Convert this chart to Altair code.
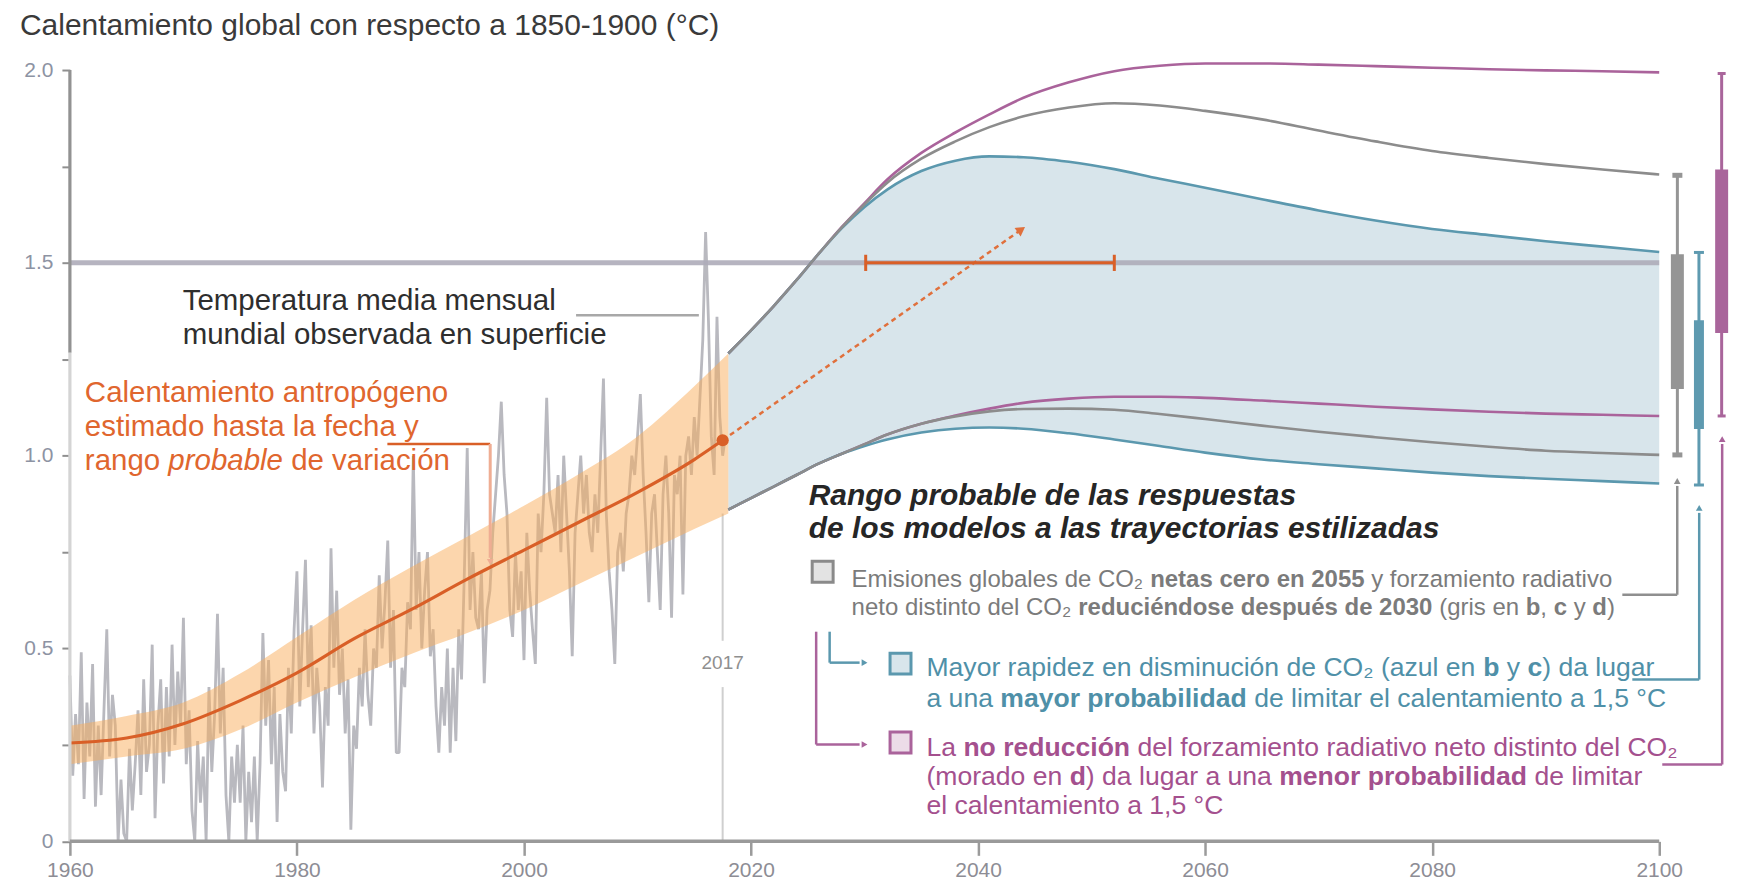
import altair as alt
import pandas as pd
import numpy as np

# ---------------- data (°C relative to 1850-1900) ----------------
# observed global mean surface temperature, read 4 times per year from 1960
obs_start = 1960
obs_per_year = 4
obs_values = [
    0.43, 0.17, 0.33, 0.20,  0.49, 0.11, 0.36, 0.22,  0.46, 0.09, 0.30, 0.12,
    0.34, 0.55, 0.22, 0.38,  0.30, 0.00, 0.16, 0.02,  0.00, 0.24, 0.08, 0.20,
    0.34, 0.12, 0.42, 0.18,  0.25, 0.51, 0.06, 0.30,  0.42, 0.15, 0.40, 0.22,
    0.51, 0.25, 0.44, 0.30,  0.58, 0.20, 0.34, 0.08,  0.00, 0.26, 0.10, 0.22,
    0.00, 0.40, 0.18, 0.33,  0.59, 0.28, 0.45, 0.12,  0.00, 0.22, 0.10, 0.25,
    0.10, 0.30, 0.00, 0.18,  0.05, 0.22, 0.00, 0.20,  0.54, 0.30, 0.47, 0.20,
    0.40, 0.05, 0.33, 0.18,  0.13, 0.45, 0.28, 0.55,  0.70, 0.35, 0.55, 0.73,
    0.40, 0.56, 0.28, 0.45,  0.35, 0.14, 0.40, 0.30,  0.76, 0.45, 0.65, 0.38,
    0.50, 0.28, 0.42, 0.03,  0.30, 0.24, 0.45, 0.35,  0.55, 0.38, 0.30, 0.50,
    0.45, 0.69, 0.50, 0.62,  0.78, 0.45, 0.60, 0.23,  0.23, 0.45, 0.40, 0.62,
    0.55, 1.00, 0.60, 0.75,  0.50, 0.65, 0.75, 0.48,  0.55, 0.35, 0.23, 0.40,
    0.30, 0.50, 0.23, 0.45,  0.26, 0.55, 0.42, 0.70,  1.02, 0.60, 0.75, 0.58,
    0.55, 0.70, 0.41, 0.60,  0.65, 0.80, 0.90, 1.00,  1.14, 0.95, 0.85, 0.60,
    0.53, 0.75, 0.60, 0.70,  0.47, 0.80, 0.65, 0.55,  0.46, 0.85, 0.75, 0.90,
    1.15, 0.90, 0.85, 0.80,  0.95, 0.75, 1.00, 0.85,  0.70, 0.48, 0.80, 0.90,
    1.00, 0.85, 0.95, 0.80,  0.75, 0.90, 0.80, 1.00,  1.20, 0.85, 0.70, 0.60,
    0.46, 0.75, 0.80, 0.70,  0.85, 0.90, 1.00, 0.95,  1.05, 1.16, 0.95, 0.80,
    0.62, 0.85, 0.90, 0.75,  0.60, 0.90, 1.00, 0.85,  0.58, 0.95, 0.90, 1.00,
    0.64, 1.00, 1.05, 0.95,  1.10, 1.00, 1.15, 1.30,  1.58, 1.35, 1.05, 0.95,
    1.36, 1.10, 1.00, 1.05,
]

# estimated human-induced warming and likely range
anth_years = [1960, 1965, 1970, 1975, 1980, 1985, 1990, 1995, 2000, 2005, 2010, 2015, 2017.5]
anth_mid = [0.255, 0.268, 0.305, 0.365, 0.437, 0.525, 0.60, 0.68, 0.755, 0.83, 0.905, 0.99, 1.04]
band_years = [1960, 1965, 1970, 1975, 1980, 1985, 1990, 1995, 2000, 2005, 2010, 2015, 2018]
band_lo = [0.20, 0.22, 0.24, 0.29, 0.36, 0.425, 0.485, 0.54, 0.60, 0.67, 0.74, 0.81, 0.85]
band_hi = [0.30, 0.325, 0.36, 0.435, 0.53, 0.625, 0.71, 0.79, 0.87, 0.955, 1.05, 1.18, 1.265]

# likely ranges of modelled responses to stylized pathways
proj_years = [2018, 2020, 2022, 2024, 2026, 2028, 2030, 2032, 2035, 2038, 2041, 2044,
              2048, 2052, 2056, 2060, 2065, 2070, 2075, 2080, 2085, 2090, 2095, 2100]
blue_hi = [1.265, 1.325, 1.388, 1.455, 1.525, 1.59, 1.645, 1.69, 1.738, 1.765, 1.776, 1.774,
           1.762, 1.743, 1.718, 1.695, 1.665, 1.636, 1.61, 1.588, 1.572, 1.556, 1.542, 1.528]
blue_lo = [0.86, 0.89, 0.92, 0.95, 0.98, 1.005, 1.025, 1.042, 1.06, 1.07, 1.073, 1.07,
           1.058, 1.042, 1.025, 1.008, 0.99, 0.978, 0.967, 0.956, 0.947, 0.94, 0.934, 0.928]
gray_hi = [1.265, 1.325, 1.388, 1.455, 1.525, 1.592, 1.652, 1.708, 1.77, 1.815, 1.852, 1.88,
           1.903, 1.914, 1.908, 1.894, 1.872, 1.843, 1.815, 1.79, 1.772, 1.756, 1.742, 1.729]
gray_lo = [0.86, 0.89, 0.92, 0.95, 0.98, 1.005, 1.03, 1.055, 1.083, 1.102, 1.115, 1.121,
           1.122, 1.119, 1.108, 1.095, 1.078, 1.062, 1.048, 1.035, 1.023, 1.013, 1.007, 1.002]
purple_hi = [1.265, 1.325, 1.388, 1.455, 1.525, 1.593, 1.655, 1.716, 1.785, 1.838, 1.885, 1.928,
             1.968, 1.997, 2.011, 2.017, 2.017, 2.014, 2.01, 2.006, 2.002, 1.999, 1.997, 1.994]
purple_lo = [0.86, 0.89, 0.92, 0.95, 0.98, 1.005, 1.03, 1.055, 1.083, 1.104, 1.122, 1.137,
             1.148, 1.153, 1.153, 1.15, 1.143, 1.135, 1.127, 1.12, 1.114, 1.109, 1.106, 1.103]

# 2100 likely ranges (bars at the right): whisker and box
bar_names = ["gris", "azul", "morado"]
bar_years = [2101.6, 2103.5, 2105.5]
bar_whisker_lo = [1.002, 0.924, 1.103]
bar_whisker_hi = [1.727, 1.527, 1.991]
bar_box_lo = [1.173, 1.069, 1.318]
bar_box_hi = [1.522, 1.351, 1.742]

# time range when 1.5 °C is reached
reach_year_lo, reach_year_hi, reach_level = 2030.1, 2052.0, 1.5
now_year, now_value = 2017.5, 1.04
trend_end_year, trend_end_value = 2043.7, 1.584
target_level = 1.5
x_ticks = [1960, 1980, 2000, 2020, 2040, 2060, 2080, 2100]
y_ticks = [0, 0.25, 0.5, 0.75, 1.0, 1.25, 1.5, 1.75, 2.0]

# ---------------- layout helpers ----------------
PX_X0, PX_PER_YR = 70.0, 11.371      # page x of 1960, px per year
PX_Y0, PX_PER_DEG = 842.0, 386.3     # page y of 0 °C, px per °C
X_DOMAIN = [1960, 2106.5]
W = (X_DOMAIN[1] - X_DOMAIN[0]) * PX_PER_YR
H = 2.0 * PX_PER_DEG


def yr(px):
    return 1960 + (px - PX_X0) / PX_PER_YR


def dg(py):
    return (PX_Y0 - py) / PX_PER_DEG


FONT = "Liberation Sans"
BLUE, GRAY, PURPLE, ORANGE = "#5b98ae", "#8c8c8c", "#aa639b", "#d95f27"

XS = alt.Scale(domain=X_DOMAIN, nice=False, zero=False)
YS = alt.Scale(domain=[0, 2.0], nice=False, zero=False)
XAXIS = alt.Axis(values=x_ticks, format="d", domain=False, grid=False, tickSize=14,
                 tickWidth=2.5, tickColor="#9b9b9b", labelFontSize=21, labelColor="#8d8d95",
                 labelFont=FONT, labelPadding=4, labelFlush=False, title=None)
YAXIS = alt.Axis(values=y_ticks, domain=False, grid=False, tickSize=8, tickWidth=2,
                 tickColor="#8f8f8f", labelFontSize=21, labelColor="#8d93a3", labelFont=FONT,
                 labelPadding=9, title=None,
                 labelExpr="datum.value == 0 ? '0' : (datum.value % 0.5 == 0 ? format(datum.value, '.1f') : '')")


def X(f):
    return alt.X(f, type="quantitative", scale=XS, axis=XAXIS, title=None)


def Y(f):
    return alt.Y(f, type="quantitative", scale=YS, axis=YAXIS, title=None)


# ---------------- tables ----------------
obs = pd.DataFrame({"year": [obs_start + i / obs_per_year for i in range(len(obs_values))],
                    "v": obs_values})
anth = pd.DataFrame({"year": anth_years, "v": anth_mid})
band = pd.DataFrame({"year": band_years, "lo": band_lo, "hi": band_hi})
proj = pd.DataFrame({"year": proj_years, "lo": blue_lo, "hi": blue_hi})
series = []
for name, vals, col in [("purple_hi", purple_hi, PURPLE), ("purple_lo", purple_lo, PURPLE),
                        ("blue_hi", blue_hi, BLUE), ("blue_lo", blue_lo, BLUE),
                        ("gray_hi", gray_hi, GRAY), ("gray_lo", gray_lo, GRAY)]:
    for y, v in zip(proj_years, vals):
        series.append({"s": name, "year": y, "v": v, "c": col})
lines = pd.DataFrame(series)

# ---------------- layers ----------------
layers = []

# blue likely range area
layers.append(alt.Chart(proj).mark_area(color="#d8e5eb", interpolate="monotone").encode(
    x=X("year"), y=Y("lo"), y2="hi"))

# 2017 marker line (with gap for label)
mk = pd.DataFrame({"x": [now_year, now_year], "y": [0.0, 0.52], "y2": [0.40, 0.85]})
layers.append(alt.Chart(mk).mark_rule(color="#cfcfcf", strokeWidth=2).encode(
    x=X("x"), y=Y("y"), y2="y2"))

# observed series
layers.append(alt.Chart(obs).mark_line(color="#b9b9bf", strokeWidth=2.8, strokeJoin="bevel").encode(
    x=X("year"), y=Y("v")))

# orange likely range
layers.append(alt.Chart(band).mark_area(color="#faae5c", opacity=0.5, interpolate="monotone").encode(
    x=X("year"), y=Y("lo"), y2="hi"))

# 1.5 °C line
t15 = pd.DataFrame({"x": [1960], "x2": [2100], "y": [target_level]})
layers.append(alt.Chart(t15).mark_rule(color="#aeacb9", strokeWidth=5, opacity=0.9).encode(
    x=X("x"), x2="x2", y=Y("y")))

# projection boundary lines
layers.append(alt.Chart(lines).mark_line(strokeWidth=2.6, interpolate="monotone").encode(
    x=X("year"), y=Y("v"), detail="s:N", color=alt.Color("c:N", scale=None)))

# anthropogenic warming line
layers.append(alt.Chart(anth).mark_line(color=ORANGE, strokeWidth=3.2, interpolate="monotone").encode(
    x=X("year"), y=Y("v")))

# dashed trend arrow
arr = pd.DataFrame({"year": [now_year, trend_end_year], "v": [now_value, trend_end_value]})
layers.append(alt.Chart(arr).mark_line(color="#e0703c", strokeWidth=2.5, strokeDash=[5, 4]).encode(
    x=X("year"), y=Y("v")))
ang = float(np.degrees(np.arctan2((trend_end_year - now_year) * PX_PER_YR,
                                  (trend_end_value - now_value) * PX_PER_DEG)))
head = pd.DataFrame({"year": [trend_end_year], "v": [trend_end_value], "a": [ang]})
layers.append(alt.Chart(head).mark_point(shape="triangle", filled=True, color="#e0703c", size=110, opacity=1).encode(
    x=X("year"), y=Y("v"), angle=alt.Angle("a:Q", scale=None)))

# 2017 dot
dot = pd.DataFrame({"year": [now_year], "v": [now_value]})
layers.append(alt.Chart(dot).mark_circle(color=ORANGE, size=150, opacity=1).encode(x=X("year"), y=Y("v")))

# range when 1.5 reached
rb = pd.DataFrame({"x": [reach_year_lo], "x2": [reach_year_hi], "y": [reach_level]})
layers.append(alt.Chart(rb).mark_rule(color=ORANGE, strokeWidth=3).encode(x=X("x"), x2="x2", y=Y("y")))
caps = pd.DataFrame({"x": [reach_year_lo, reach_year_hi], "y": [reach_level - 0.021] * 2,
                     "y2": [reach_level + 0.021] * 2})
layers.append(alt.Chart(caps).mark_rule(color=ORANGE, strokeWidth=3).encode(x=X("x"), y=Y("y"), y2="y2"))

# axis lines
ax = pd.DataFrame({"x": [1960, 1960], "y": [1.267, 0.0], "y2": [2.0, 1.267],
                   "c": ["#929292", "#d4d4d4"]})
layers.append(alt.Chart(ax).mark_rule(strokeWidth=3.2).encode(
    x=X("x"), y=Y("y"), y2="y2", color=alt.Color("c:N", scale=None)))
bx = pd.DataFrame({"x": [1960], "x2": [2100], "y": [0.0]})
layers.append(alt.Chart(bx).mark_rule(color="#9a9a9a", strokeWidth=3.5).encode(x=X("x"), x2="x2", y=Y("y")))

# right-hand bars
bar_cols = ["#959595", "#5e9ab0", "#a9659b"]
bars = pd.DataFrame({"x": bar_years, "wlo": bar_whisker_lo, "whi": bar_whisker_hi,
                     "blo": bar_box_lo, "bhi": bar_box_hi, "c": bar_cols,
                     "bw": [13, 10, 13]})
layers.append(alt.Chart(bars).mark_rule(strokeWidth=3).encode(
    x=X("x"), y=Y("wlo"), y2="whi", color=alt.Color("c:N", scale=None)))
layers.append(alt.Chart(bars).mark_rule().encode(
    x=X("x"), y=Y("blo"), y2="bhi", color=alt.Color("c:N", scale=None),
    strokeWidth=alt.StrokeWidth("bw:Q", scale=None)))
cap_rows = []
for xb, lo, hi, c, half, th in zip(bar_years, bar_whisker_lo, bar_whisker_hi, bar_cols,
                                   [5, 5, 4], [5, 3, 3]):
    for v in (lo, hi):
        cap_rows.append({"x": xb - half / PX_PER_YR, "x2": xb + half / PX_PER_YR, "y": v, "c": c, "w": th})
layers.append(alt.Chart(pd.DataFrame(cap_rows)).mark_rule().encode(
    x=X("x"), x2="x2", y=Y("y"), color=alt.Color("c:N", scale=None),
    strokeWidth=alt.StrokeWidth("w:Q", scale=None)))

# connectors (page px -> data units)
seg_px = [
    (1625, 595, 1680, 595, "#8f8f8f", 2.5), (1680, 595, 1680, 486, "#8f8f8f", 2.5),
    (1635, 680, 1702, 680, BLUE, 2.5), (1702, 680, 1702, 513, BLUE, 2.5),
    (1665, 765, 1725, 765, PURPLE, 2.5), (1725, 765, 1725, 444, PURPLE, 2.5),
    (831, 632, 831, 663, BLUE, 2.5), (831, 663, 861, 663, BLUE, 2.5),
    (817.5, 632, 817.5, 745, PURPLE, 2.5), (817.5, 745, 861, 745, PURPLE, 2.5),
    (388, 444, 491, 444, ORANGE, 2.5), (491, 444, 491, 558, "#efad93", 3),
    (577, 315, 700, 315, "#a8a8a8", 2.5),
]
segs = pd.DataFrame([{"x": yr(a), "y": dg(b), "x2": yr(c), "y2": dg(d), "c": col, "w": w}
                     for a, b, c, d, col, w in seg_px])
layers.append(alt.Chart(segs).mark_rule().encode(
    x=X("x"), y=Y("y"), x2="x2", y2="y2", color=alt.Color("c:N", scale=None),
    strokeWidth=alt.StrokeWidth("w:Q", scale=None)))
heads_px = [(1680, 482, 0, "#8f8f8f"), (1702, 509, 0, BLUE), (1725, 440, 0, PURPLE),
            (865, 663, 90, BLUE), (865, 745, 90, PURPLE), (491, 561, 180, "#efad93")]
heads = pd.DataFrame([{"x": yr(a), "y": dg(b), "a": g, "c": c} for a, b, g, c in heads_px])
layers.append(alt.Chart(heads).mark_point(shape="triangle", filled=True, size=45, opacity=1).encode(
    x=X("x"), y=Y("y"), angle=alt.Angle("a:Q", scale=None), color=alt.Color("c:N", scale=None)))

# legend squares
sq_px = [(824, 572, "#e3e3e3", "#8a8a8a"), (902, 664, "#d8e5eb", BLUE), (902, 743, "#ecdce8", PURPLE)]
sq = pd.DataFrame([{"x": yr(a), "y": dg(b), "f": f, "s": s} for a, b, f, s in sq_px])
layers.append(alt.Chart(sq).mark_square(size=440, filled=True, strokeWidth=3, opacity=1).encode(
    x=X("x"), y=Y("y"), fill=alt.Fill("f:N", scale=None), stroke=alt.Stroke("s:N", scale=None)))

# ---------------- texts ----------------
REG = dict(zip("abcdefghijklmnopqrstuvwxyz",
               [556, 556, 500, 556, 556, 278, 556, 556, 222, 222, 500, 222, 833, 556, 556, 556,
                556, 333, 500, 278, 556, 500, 722, 500, 500, 500]))
BLD = dict(zip("abcdefghijklmnopqrstuvwxyz",
               [556, 611, 556, 611, 556, 333, 611, 611, 278, 278, 556, 278, 889, 611, 611, 611,
                611, 389, 556, 333, 611, 556, 778, 556, 556, 500]))
for d, acc in ((REG, {"á": 556, "é": 556, "í": 278, "ó": 556, "ú": 556, "ñ": 556}),
               (BLD, {"á": 556, "é": 556, "í": 278, "ó": 611, "ú": 611, "ñ": 611})):
    d.update(acc)
    d.update({" ": 278, ",": 278, ".": 278, "(": 333, ")": 333, "°": 400, "₂": 400,
              "C": 722, "O": 778, "M": 833, "L": 556, "E": 667})


def tw(s, size, bold):
    tab = BLD if bold else REG
    return sum(tab.get(ch, 556) for ch in s) * size / 1000.0


small_lines = [
    (853, 587, "#7b7b7b", 24.0, [("Emisiones globales de CO₂ ", 0), ("netas cero en 2055", 1), (" y forzamiento radiativo", 0)]),
    (853, 615.5, "#7b7b7b", 24.0, [("neto distinto del CO₂ ", 0), ("reduciéndose después de 2030", 1), (" (gris en ", 0),
                                   ("b", 1), (", ", 0), ("c", 1), (" y ", 0), ("d", 1), (")", 0)]),
    (928, 676, "#4f90a8", 26.6, [("Mayor rapidez en disminución de CO₂ (azul en ", 0), ("b", 1), (" y ", 0), ("c", 1),
                                 (") da lugar", 0)]),
    (928, 707, "#4f90a8", 26.6, [("a una ", 0), ("mayor probabilidad", 1), (" de limitar el calentamiento a 1,5 °C", 0)]),
    (928, 757, "#a4508e", 26.6, [("La ", 0), ("no reducción", 1), (" del forzamiento radiativo neto distinto del CO₂", 0)]),
    (928, 786, "#a4508e", 26.6, [("(morado en ", 0), ("d", 1), (") da lugar a una ", 0), ("menor probabilidad", 1),
                                 (" de limitar", 0)]),
    (928, 815, "#a4508e", 26.6, [("el calentamiento a 1,5 °C", 0)]),
]
rows = {}
for x0, y0, col, size, segs_t in small_lines:
    xc = x0
    for txt, b in segs_t:
        lead = len(txt) - len(txt.lstrip(" "))
        rows.setdefault((size, b), []).append(
            {"x": yr(xc + tw(" " * lead, size, b)), "y": dg(y0), "t": txt.strip(" "), "c": col})
        xc += tw(txt, size, b)

for (size, b), rr in rows.items():
    mk_args = dict(align="left", baseline="alphabetic", font=FONT, fontSize=size)
    if b:
        mk_args["fontWeight"] = "bold"
    layers.append(alt.Chart(pd.DataFrame(rr)).mark_text(**mk_args).encode(
        x=X("x"), y=Y("y"), text="t:N", color=alt.Color("c:N", scale=None)))

BIG = 29.5
title_df = pd.DataFrame([{"x": yr(20), "y": dg(34), "t": "Calentamiento global con respecto a 1850-1900 (°C)"}])
layers.append(alt.Chart(title_df).mark_text(align="left", baseline="alphabetic", font=FONT, fontSize=30,
                                            color="#3a3a3a").encode(x=X("x"), y=Y("y"), text="t:N"))
big_px = [
    (183, 310, "Temperatura media mensual", "#2e2e2e"),
    (183, 344, "mundial observada en superficie", "#2e2e2e"),
    (85, 401.7, "Calentamiento antropógeno", "#e0662e"),
    (85, 435.7, "estimado hasta la fecha y", "#e0662e"),
    (85, 469.7, "rango", "#e0662e"),
    (85 + tw("rango ", BIG, 0) + tw("probable ", BIG, 0), 469.7, "de variación", "#e0662e"),
]
big = pd.DataFrame([{"x": yr(a), "y": dg(b), "t": t, "c": c} for a, b, t, c in big_px])
layers.append(alt.Chart(big).mark_text(align="left", baseline="alphabetic", font=FONT, fontSize=BIG).encode(
    x=X("x"), y=Y("y"), text="t:N", color=alt.Color("c:N", scale=None)))
ital = pd.DataFrame([{"x": yr(85 + tw("rango ", BIG, 0)), "y": dg(469.7), "t": "probable"}])
layers.append(alt.Chart(ital).mark_text(align="left", baseline="alphabetic", font=FONT, fontSize=BIG,
                                        fontStyle="italic", color="#e0662e").encode(
    x=X("x"), y=Y("y"), text="t:N"))
hdr = pd.DataFrame([{"x": yr(810), "y": dg(505), "t": "Rango probable de las respuestas"},
                    {"x": yr(810), "y": dg(538), "t": "de los modelos a las trayectorias estilizadas"}])
layers.append(alt.Chart(hdr).mark_text(align="left", baseline="alphabetic", font=FONT, fontSize=30,
                                       fontStyle="italic", fontWeight="bold", color="#262626").encode(
    x=X("x"), y=Y("y"), text="t:N"))
lab = pd.DataFrame([{"x": now_year, "y": dg(669), "t": "2017"}])
layers.append(alt.Chart(lab).mark_text(align="center", baseline="alphabetic", font=FONT, fontSize=19,
                                       color="#8f8f8f").encode(x=X("x"), y=Y("y"), text="t:N"))

chart = alt.layer(*layers).properties(
    width=W, height=H,
    padding={"left": PX_X0 - 8, "top": PX_Y0 - H - 8, "right": 0, "bottom": 46},
    autosize=alt.AutoSizeParams(type="none"),
).configure_view(stroke=None)

chart.save("out.html", embed_options={"renderer": "svg", "actions": False})
